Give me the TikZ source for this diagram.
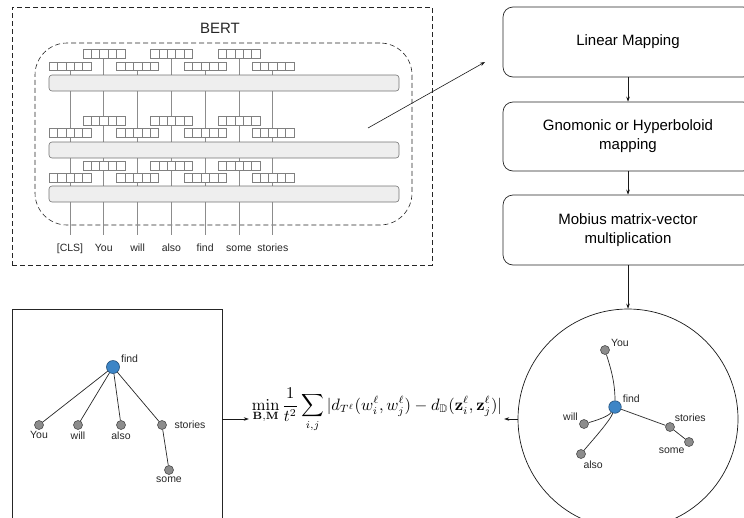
\documentclass[tikz,border=0pt]{standalone}
\usepackage{amsmath,amssymb}
\usepackage[no-math]{fontspec}
\setmainfont{Liberation Sans}
\usepackage{graphicx}
\usetikzlibrary{arrows.meta,calc}

\definecolor{rootblue}{HTML}{3D85C6}
\definecolor{rootedge}{HTML}{24507A}
\definecolor{leafgray}{HTML}{8C8C8C}
\definecolor{barfill}{HTML}{EEEEEE}

\begin{document}
\begin{tikzpicture}[x=1pt,y=-1pt,
  font=\fontsize{10.5}{12.6}\selectfont,
  frame/.style={draw=black!85, line width=0.6pt, dash pattern=on 5pt off 3pt, inner sep=0},
  layerbar/.style={draw=black!55, fill=barfill, rounded corners=3pt, line width=0.6pt,
    minimum width=350pt, minimum height=16pt, inner sep=0},
  vec/.style={draw=black!50, fill=white, line width=0.6pt, inner sep=0,
    minimum width=42pt, minimum height=8.5pt,
    path picture={\foreach \k in {1,...,4}
      \draw[black!50, line width=0.6pt]
        ($(path picture bounding box.south west)!\k/5!(path picture bounding box.south east)$) -- ++(0,-12);}},
  tok/.style={anchor=base, inner sep=2pt, text height=8pt, text=black!85},
  wire/.style={draw=black!45, line width=0.7pt},
  flowbox/.style={draw=black!85, line width=0.7pt, rounded corners=10pt, align=center,
    minimum width=250pt, font=\fontsize{15}{19}\selectfont},
  arr/.style={-{Stealth[length=5pt,width=3.6pt]}, line width=0.6pt, draw=black!90},
  edge/.style={line width=0.7pt, draw=black!85},
  root/.style={circle, draw=rootedge, fill=rootblue, line width=0.6pt, minimum size=12.5pt, inner sep=0},
  leaf/.style={circle, draw=black!70, fill=leafgray, line width=0.6pt, minimum size=9pt, inner sep=0},
  lbl/.style={inner sep=1.5pt, text=black!85}
]
\useasboundingbox (0,0) rectangle (744,517);

% ---------- BERT encoder ----------
\node[frame, minimum width=420pt, minimum height=258pt] (bert) at (222,136) {};
\node[font=\fontsize{15}{18}\selectfont, text=black!85] (berttitle) at (220,28) {BERT};
\node[frame, rounded corners=32pt, minimum width=377pt, minimum height=182pt] (encoder) at (223.5,134) {};

% input tokens
\foreach \i/\w in {1/{[CLS]},2/You,3/will,4/also,5/find,6/some,7/stories}
  \node[tok] (t\i) at ({70+33.8*(\i-1)},251) {\w};

% output vectors of the top layer
\foreach \i in {1,...,7} {
  \pgfmathsetmacro\yy{isodd(\i) ? 66.5 : 54}
  \node[vec] (v1-\i) at ({70+33.8*(\i-1)},\yy) {};
}

% token columns running through the stack
\foreach \i in {1,...,7}
  \draw[wire, shorten <=6pt] (t\i.north) -- (v1-\i.south);

% transformer layers
\node[layerbar] (bar1) at (224,83) {};
\node[layerbar] (bar2) at (224,150) {};
\node[layerbar] (bar3) at (224,194) {};

% hidden vectors of the lower layers
\foreach \L/\yu/\yl in {2/121/133, 3/166/178} {
  \foreach \i in {1,...,7} {
    \pgfmathsetmacro\yy{isodd(\i) ? \yl : \yu}
    \node[vec] (v\L-\i) at ({70+33.8*(\i-1)},\yy) {};
  }
}

% ---------- mapping pipeline ----------
\coordinate (bertout) at (368,128);
\coordinate (mapin) at (485,62);
\draw[arr] (bertout) -- (mapin);

\node[flowbox, minimum height=70pt] (linmap) at (628,42) {Linear Mapping};
\node[flowbox, minimum height=69pt] (gnomo) at (628,136.5) {Gnomonic or Hyperboloid\\mapping};
\node[flowbox, minimum height=70pt] (mobius) at (628,230) {Mobius matrix-vector\\multiplication};

\draw[arr] (linmap.south) -- (gnomo.north);
\draw[arr] (gnomo.south) -- (mobius.north);

% Poincare disk
\node[circle, draw=black!90, line width=0.7pt, minimum size=220pt, inner sep=0] (disk) at (628,419) {};
\draw[arr] (mobius.south) -- (disk.north);

\node[root, label={[lbl]20:find}] (dfind) at (615,407) {};
\node[leaf, label={[lbl]25:You}] (dyou) at (605,350) {};
\node[leaf, label={[lbl]160:will}] (dwill) at (584,424) {};
\node[leaf, label={[lbl]-80:also}] (dalso) at (581,454) {};
\node[leaf, label={[lbl]50:stories}] (dstories) at (670,427) {};
\node[leaf, label={[lbl]-125:some}] (dsome) at (689,442) {};

\draw[edge] (dfind) .. controls +(0,-26) and +(5,16) .. (dyou);
\draw[edge] (dfind) .. controls +(-7,10) and +(10,-3) .. (dwill);
\draw[edge] (dfind) .. controls +(-5,14) and +(9,-11) .. (dalso);
\draw[edge] (dfind) -- (dstories);
\draw[edge] (dstories) -- (dsome);

% ---------- syntax tree ----------
\node[draw=black!85, line width=0.7pt, minimum width=210pt, minimum height=220pt, inner sep=0] (treebox) at (117,419) {};

\node[root, minimum size=13pt, label={[lbl]20:find}] (find) at (113,367) {};
\node[leaf, label={[lbl]below:You}] (you) at (39,425) {};
\node[leaf, label={[lbl]below:will}] (will) at (78,425) {};
\node[leaf, label={[lbl]below:also}] (also) at (121,425) {};
\node[leaf, label={[lbl, xshift=6pt]right:stories}] (stories) at (162,425) {};
\node[leaf, label={[lbl]below:some}] (some) at (169,470) {};

\draw[edge] (find) -- (you);
\draw[edge] (find) -- (will);
\draw[edge] (find) -- (also);
\draw[edge] (find) -- (stories);
\draw[edge] (stories) -- (some);

% ---------- distortion objective ----------
\node[inner sep=0] (loss) at (377,410) {\resizebox{250pt}{!}{$\displaystyle
  \min_{\mathbf{B},\mathbf{M}}\frac{1}{t^2}\sum_{i,j}
  |d_{T^\ell}(w_i^\ell,w_j^\ell)-d_{\mathbb{D}}(\mathbf{z}_i^\ell,\mathbf{z}_j^\ell)|$}};

\draw[arr, shorten >=3pt] (treebox.east) -- (treebox.east -| loss.west);
\draw[arr, shorten >=2pt] (disk.west) -- (disk.west -| loss.east);

\end{tikzpicture}
\end{document}
